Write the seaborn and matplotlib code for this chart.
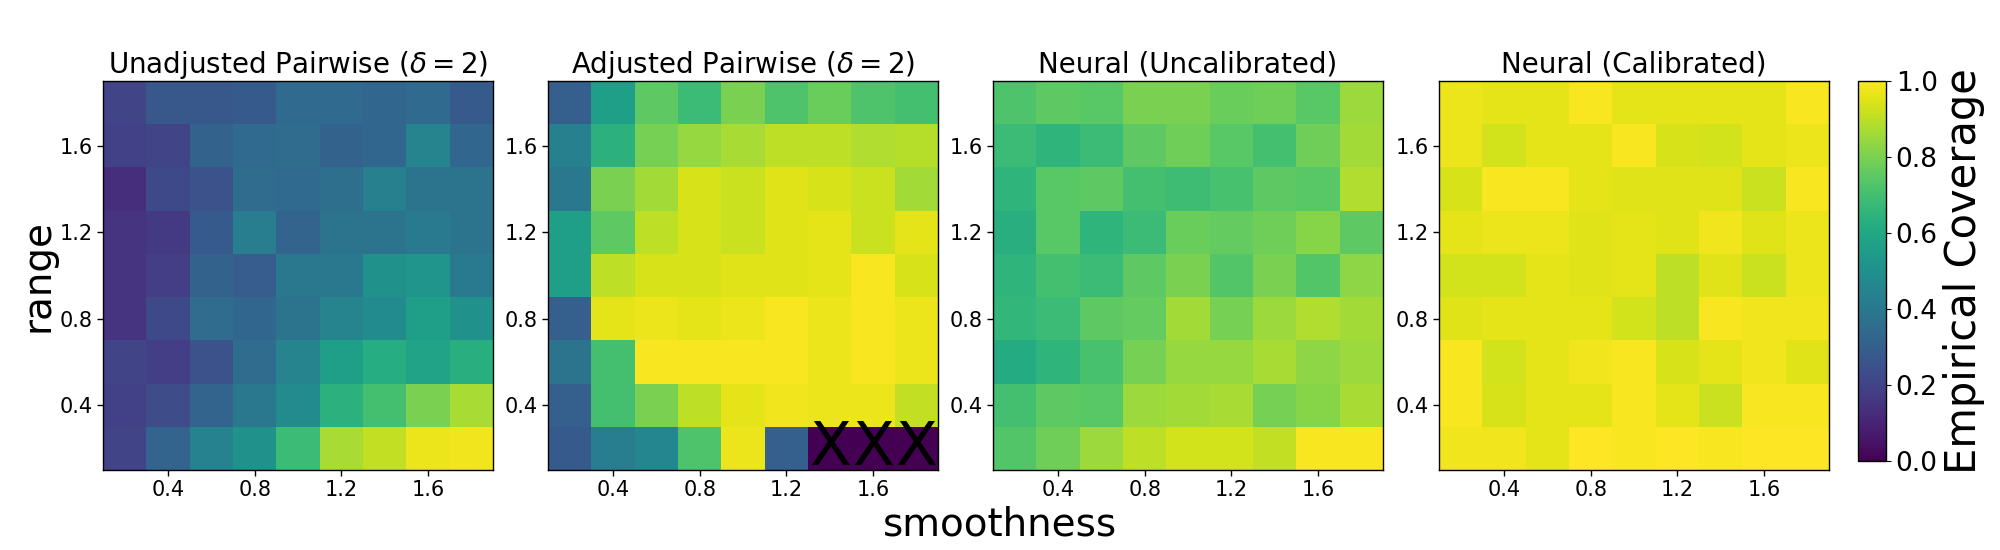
import numpy as np
import pandas as pd
import seaborn as sns
import matplotlib.pyplot as plt

# grid values (rows listed top to bottom, i.e. range 1.8 -> 0.2)
smoothness = [0.2, 0.4, 0.6, 0.8, 1.0, 1.2, 1.4, 1.6, 1.8]
range_vals = [1.8, 1.6, 1.4, 1.2, 1.0, 0.8, 0.6, 0.4, 0.2]
tick_vals = [0.4, 0.8, 1.2, 1.6]

unadjusted = [
    [0.20, 0.27, 0.27, 0.28, 0.34, 0.34, 0.33, 0.34, 0.28],
    [0.19, 0.20, 0.31, 0.34, 0.35, 0.31, 0.33, 0.45, 0.33],
    [0.13, 0.22, 0.25, 0.35, 0.34, 0.36, 0.43, 0.38, 0.38],
    [0.15, 0.17, 0.28, 0.42, 0.32, 0.38, 0.38, 0.41, 0.38],
    [0.15, 0.18, 0.31, 0.29, 0.40, 0.40, 0.50, 0.52, 0.41],
    [0.15, 0.22, 0.35, 0.33, 0.38, 0.45, 0.48, 0.56, 0.50],
    [0.20, 0.18, 0.25, 0.35, 0.45, 0.56, 0.62, 0.58, 0.63],
    [0.19, 0.23, 0.32, 0.40, 0.48, 0.64, 0.70, 0.80, 0.87],
    [0.20, 0.32, 0.44, 0.50, 0.68, 0.87, 0.91, 0.97, 0.98],
]

# 0.0 marks failed runs (drawn with an X)
adjusted = [
    [0.30, 0.56, 0.75, 0.68, 0.80, 0.72, 0.77, 0.72, 0.70],
    [0.43, 0.64, 0.79, 0.84, 0.87, 0.90, 0.90, 0.88, 0.89],
    [0.40, 0.80, 0.86, 0.94, 0.92, 0.95, 0.94, 0.92, 0.86],
    [0.56, 0.75, 0.90, 0.94, 0.92, 0.95, 0.96, 0.92, 0.96],
    [0.56, 0.90, 0.94, 0.94, 0.95, 0.95, 0.96, 0.99, 0.94],
    [0.30, 0.96, 0.97, 0.96, 0.97, 0.99, 0.97, 0.99, 0.97],
    [0.38, 0.70, 0.99, 0.99, 0.99, 0.99, 0.97, 0.99, 0.97],
    [0.30, 0.70, 0.80, 0.90, 0.96, 0.98, 0.97, 0.97, 0.91],
    [0.28, 0.42, 0.46, 0.72, 0.97, 0.30, 0.00, 0.00, 0.00],
]

neural_uncal = [
    [0.72, 0.75, 0.74, 0.80, 0.80, 0.77, 0.78, 0.74, 0.85],
    [0.68, 0.65, 0.68, 0.75, 0.78, 0.74, 0.70, 0.78, 0.86],
    [0.65, 0.74, 0.75, 0.70, 0.69, 0.71, 0.75, 0.74, 0.88],
    [0.63, 0.74, 0.65, 0.68, 0.77, 0.76, 0.78, 0.82, 0.75],
    [0.65, 0.70, 0.68, 0.75, 0.80, 0.73, 0.80, 0.73, 0.83],
    [0.66, 0.68, 0.75, 0.76, 0.86, 0.79, 0.85, 0.88, 0.86],
    [0.61, 0.65, 0.71, 0.79, 0.84, 0.84, 0.87, 0.83, 0.85],
    [0.70, 0.75, 0.74, 0.85, 0.86, 0.87, 0.79, 0.82, 0.87],
    [0.73, 0.78, 0.85, 0.90, 0.93, 0.93, 0.91, 0.99, 0.99],
]

neural_cal = [
    [0.97, 0.96, 0.96, 0.99, 0.96, 0.96, 0.96, 0.96, 0.99],
    [0.97, 0.93, 0.96, 0.96, 0.99, 0.94, 0.93, 0.96, 0.97],
    [0.94, 0.99, 0.99, 0.96, 0.95, 0.95, 0.95, 0.92, 0.99],
    [0.96, 0.97, 0.97, 0.95, 0.96, 0.95, 0.98, 0.95, 0.97],
    [0.93, 0.93, 0.96, 0.95, 0.96, 0.90, 0.95, 0.92, 0.97],
    [0.95, 0.96, 0.96, 0.96, 0.93, 0.90, 0.99, 0.98, 0.98],
    [0.99, 0.93, 0.96, 0.98, 0.99, 0.94, 0.96, 0.98, 0.95],
    [0.99, 0.94, 0.96, 0.96, 0.99, 0.96, 0.92, 0.99, 0.99],
    [0.98, 0.98, 0.96, 1.00, 0.99, 1.00, 0.99, 1.00, 1.00],
]

titles = [r'Unadjusted Pairwise ($\delta=2$)', r'Adjusted Pairwise ($\delta=2$)',
          'Neural (Uncalibrated)', 'Neural (Calibrated)']
panels = [unadjusted, adjusted, neural_uncal, neural_cal]

fig = plt.figure(figsize=(20, 5.5), dpi=100)
lefts = [0.0515, 0.274, 0.4965, 0.7195]
cax = fig.add_axes([0.929, 0.162, 0.014, 0.691])

xt = [i + 0.5 for i, v in enumerate(smoothness) if v in tick_vals]
yt = [i + 0.5 for i, v in enumerate(range_vals) if v in tick_vals]

axes = []
for k, (vals, title) in enumerate(zip(panels, titles)):
    ax = fig.add_axes([lefts[k], 0.1455, 0.195, 0.7073])
    axes.append(ax)
    df = pd.DataFrame(vals, index=range_vals, columns=smoothness)
    labels = np.where(df.values == 0.0, 'X', '')
    sns.heatmap(df, ax=ax, cmap='viridis', vmin=0, vmax=1,
                cbar=(k == 0), cbar_ax=cax if k == 0 else None,
                annot=labels, fmt='', annot_kws={'fontsize': 44, 'color': 'black'},
                xticklabels=False, yticklabels=False)
    ax.set_xticks(xt)
    ax.set_xticklabels([f'{v:.1f}' for v in tick_vals], rotation=0, fontsize=15)
    ax.set_yticks(yt)
    ax.set_yticklabels([f'{v:.1f}' for v in tick_vals[::-1]], rotation=0, fontsize=15)
    ax.tick_params(length=4, width=1)
    for s in ax.spines.values():
        s.set_visible(True)
        s.set_color('black')
        s.set_linewidth(1)
    ax.set_xlabel('')
    ax.set_ylabel('')
    ax.set_title(title, fontsize=20)

cb = axes[0].collections[0].colorbar
cb.set_ticks([0.0, 0.2, 0.4, 0.6, 0.8, 1.0])
cb.ax.tick_params(labelsize=19)
cb.set_label('Empirical Coverage', fontsize=30)
cb.outline.set_visible(True)
cb.outline.set_edgecolor('black')
cb.outline.set_linewidth(1)

fig.text(0.5, 0.012, 'smoothness', ha='center', va='bottom', fontsize=28)
fig.text(0.019, 0.499, 'range', ha='center', va='center', rotation=90, fontsize=28)

fig.savefig('out.png', dpi=100)
